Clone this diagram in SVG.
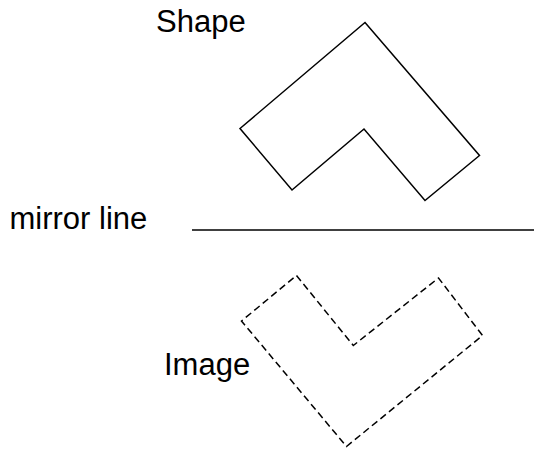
<svg xmlns="http://www.w3.org/2000/svg" width="534" height="452" viewBox="0 0 534 452">
<style>
.lbl{font-family:"Liberation Sans",Arial,sans-serif;font-size:31px;fill:#000}
.shp{fill:none;stroke:#000;stroke-width:1.5;stroke-linejoin:miter}
.dash{stroke-dasharray:7,4}
</style>
<rect width="534" height="452" fill="#fff"/>
<g id="shape">
<polygon class="shp" points="365,22.5 479.5,155.5 425,200.5 364,129 292,190 240,128.5"/>
<text class="lbl" x="156" y="32">Shape</text>
</g>
<g id="mirror">
<line x1="192" y1="230" x2="534" y2="230" stroke="#000" stroke-width="1.5"/>
<text class="lbl" x="9.5" y="228.5">mirror line</text>
</g>
<g id="image">
<polygon class="shp dash" points="296.5,275.5 353.3,345.5 438.5,278 482.5,335.5 346.5,446.5 241.5,321"/>
<text class="lbl" x="164" y="375">Image</text>
</g>
<g id="connectors"></g>
</svg>
